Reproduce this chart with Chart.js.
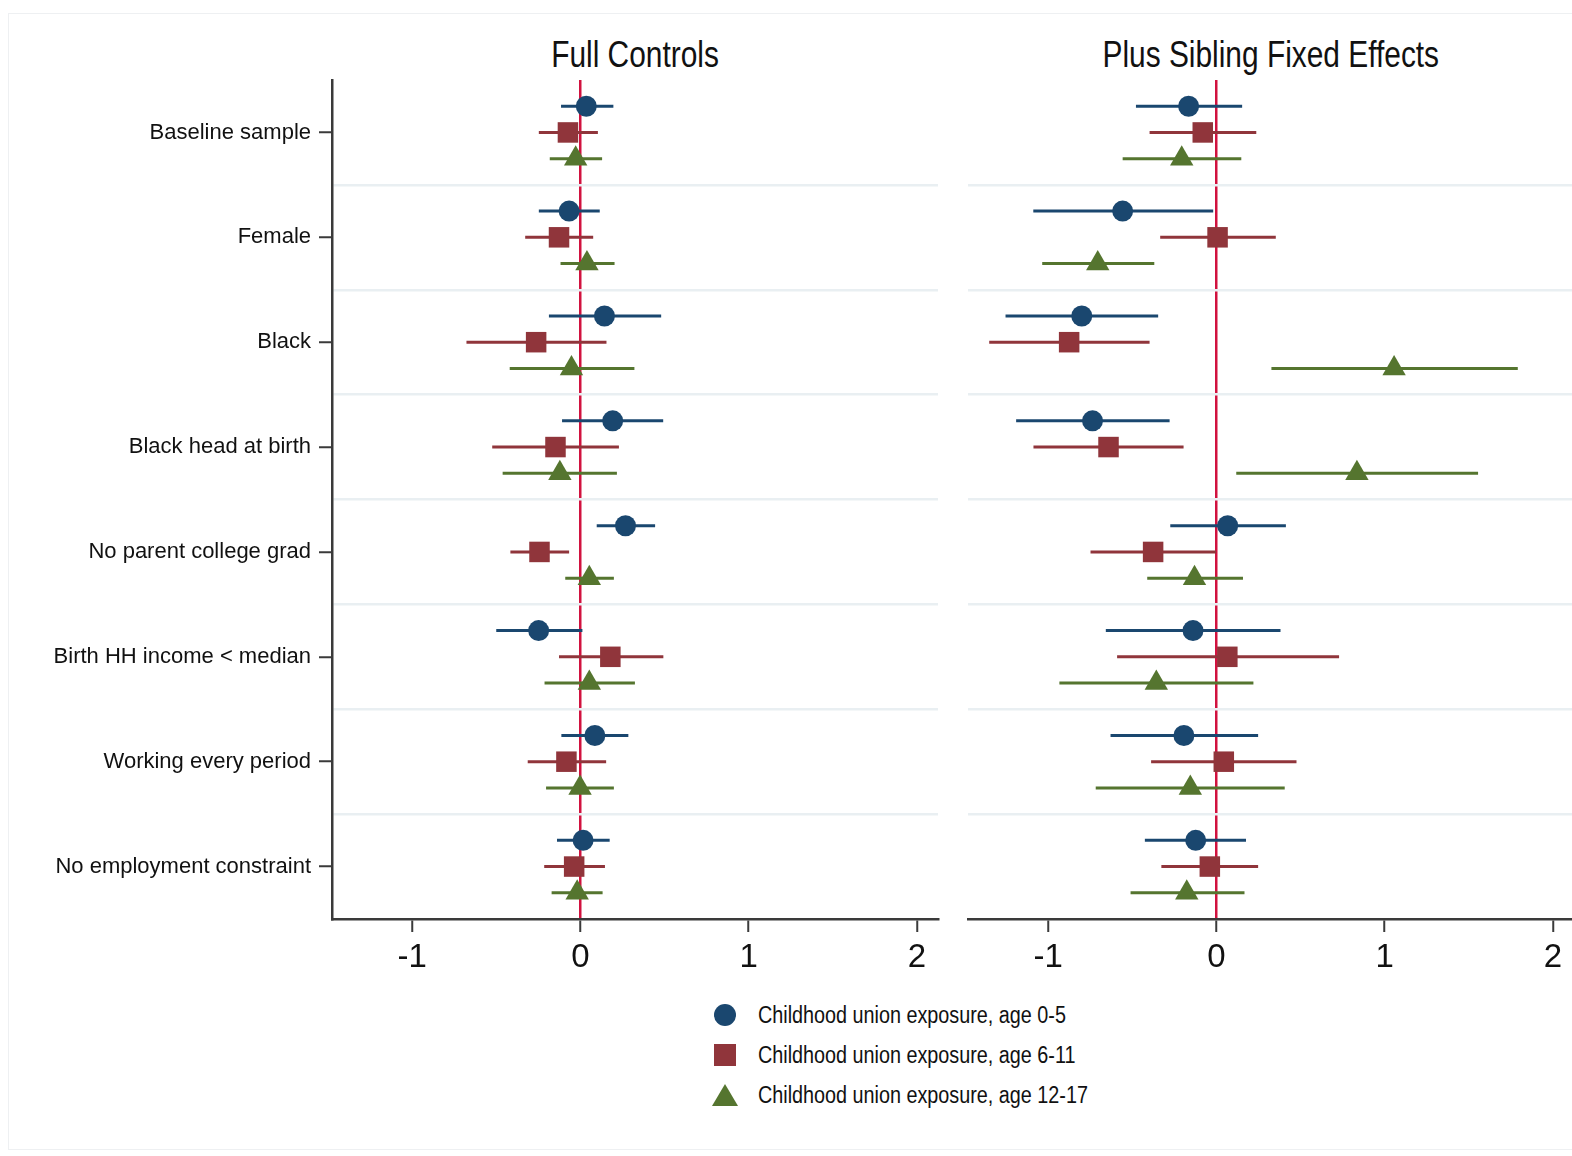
<!DOCTYPE html>
<html>
<head>
<meta charset="utf-8">
<script src="https://cdn.jsdelivr.net/npm/chart.js@4.4.1/dist/chart.umd.min.js"></script>
<style>
  body { margin: 0; width: 1572px; height: 1156px; overflow: hidden; background: #fff;
         font-family: 'Liberation Sans', Arial, sans-serif; }
  .frame { position: absolute; left: 8px; top: 13px; width: 1600px; height: 1135px; border: 1px solid #eef0f2; }
  canvas { position: absolute; top: 0; }
  .title { position: absolute; top: 34px; font-size: 36px; color: #111; text-align: center; white-space: nowrap; }
  .title span { display: inline-block; transform: scaleX(0.83); }
  .legend { position: absolute; left: 708px; top: 1000px; font-size: 23px; color: #111; white-space: nowrap; }
  .legend div { height: 40px; line-height: 30px; position: relative; }
  .legend .txt { position: absolute; left: 50px; top: 0; transform: scaleX(0.86); transform-origin: left center; }
  .sym { position: absolute; left: 6px; top: 4px; }
</style>
</head>
<body>
<div class="frame"></div>
<div class="title" style="left:332px;width:606px"><span>Full Controls</span></div>
<div class="title" style="left:968px;width:606px"><span>Plus Sibling Fixed Effects</span></div>
<canvas id="fullChart" width="960" height="1000" style="left:0"></canvas>
<canvas id="sibChart" width="660" height="1000" style="left:940px"></canvas>
<div class="legend" id="legend"></div>
<script>
// rows of the coefficient plot, top to bottom
const categories = ['Baseline sample', 'Female', 'Black', 'Black head at birth',
  'No parent college grad', 'Birth HH income < median', 'Working every period', 'No employment constraint'];
const seriesNames = ['Childhood union exposure, age 0-5', 'Childhood union exposure, age 6-11', 'Childhood union exposure, age 12-17'];
const xTicks = [-1, 0, 1, 2];

// Full Controls
const fullEst05 = [0.035, -0.067, 0.143, 0.192, 0.268, -0.248, 0.086, 0.016];
const fullLo05 = [-0.115, -0.247, -0.187, -0.109, 0.097, -0.5, -0.113, -0.139];
const fullHi05 = [0.196, 0.115, 0.48, 0.492, 0.444, 0.012, 0.285, 0.174];
const fullEst611 = [-0.074, -0.127, -0.263, -0.148, -0.243, 0.178, -0.083, -0.037];
const fullLo611 = [-0.247, -0.328, -0.677, -0.524, -0.416, -0.127, -0.313, -0.215];
const fullHi611 = [0.104, 0.076, 0.155, 0.229, -0.067, 0.493, 0.153, 0.146];
const fullEst1217 = [-0.028, 0.039, -0.053, -0.122, 0.053, 0.053, -0.002, -0.019];
const fullLo1217 = [-0.182, -0.118, -0.42, -0.462, -0.09, -0.213, -0.204, -0.171];
const fullHi1217 = [0.129, 0.203, 0.321, 0.217, 0.199, 0.324, 0.199, 0.132];

// Plus Sibling Fixed Effects
const sibEst05 = [-0.165, -0.557, -0.8, -0.736, 0.067, -0.139, -0.193, -0.123];
const sibLo05 = [-0.478, -1.088, -1.253, -1.19, -0.274, -0.657, -0.629, -0.425];
const sibHi05 = [0.153, -0.019, -0.346, -0.278, 0.413, 0.381, 0.248, 0.176];
const sibEst611 = [-0.081, 0.007, -0.875, -0.641, -0.376, 0.065, 0.044, -0.039];
const sibLo611 = [-0.397, -0.334, -1.35, -1.087, -0.748, -0.59, -0.388, -0.327];
const sibHi611 = [0.237, 0.353, -0.397, -0.195, -0.002, 0.729, 0.476, 0.248];
const sibEst1217 = [-0.206, -0.705, 1.056, 0.835, -0.13, -0.357, -0.155, -0.176];
const sibLo1217 = [-0.557, -1.035, 0.327, 0.118, -0.411, -0.933, -0.717, -0.51];
const sibHi1217 = [0.148, -0.369, 1.791, 1.555, 0.158, 0.22, 0.406, 0.167];

const colors = ['#1a476f', '#90353b', '#55752f'];
const markerStyles = ['circle', 'rect', 'triangle'];
const markerRadius = [10.5, 14.5, 13.5];
const rowOffset = [-0.25, 0, 0.25];
const axisColor = '#3a3a3a';
const sepColor = '#e9eff2';
const zeroColor = '#d1123f';

Chart.defaults.font.family = "'Liberation Sans', Arial, sans-serif";
Chart.defaults.color = '#111';

function makePanel(canvasId, est, lo, hi, showLabels, yWidth) {
  const datasets = [];
  // markers first so they draw over the bars
  est.forEach((vals, s) => {
    datasets.push({
      label: seriesNames[s],
      data: vals.map((v, i) => ({ x: v, y: i + rowOffset[s] })),
      pointStyle: markerStyles[s],
      pointRadius: markerRadius[s],
      backgroundColor: colors[s],
      borderColor: colors[s],
      pointBorderWidth: 0,
      showLine: false
    });
  });
  est.forEach((vals, s) => {
    vals.forEach((v, i) => {
      datasets.push({
        data: [{ x: lo[s][i], y: i + rowOffset[s] }, { x: hi[s][i], y: i + rowOffset[s] }],
        showLine: true,
        borderColor: colors[s],
        borderWidth: 3,
        pointRadius: 0
      });
    });
  });

  const yTickVals = [];
  for (let v = -0.5; v <= categories.length - 0.5; v += 0.5) yTickVals.push(v);
  const lastRow = categories.length - 0.5;

  return new Chart(document.getElementById(canvasId), {
    type: 'scatter',
    data: { datasets },
    options: {
      responsive: false,
      animation: false,
      layout: { padding: { top: 80, right: 0, left: 0, bottom: 0 } },
      plugins: { legend: { display: false }, tooltip: { enabled: false } },
      scales: {
        x: {
          min: -1.476, max: 2.125,
          afterBuildTicks: s => { s.ticks = xTicks.map(v => ({ value: v })); },
          afterFit: s => { s.height = 80; s.paddingLeft = 0; s.paddingRight = 0; },
          ticks: { font: { size: 33 }, color: '#111', padding: 6 },
          grid: {
            color: ctx => (ctx.tick && ctx.tick.value === 0) ? zeroColor : 'transparent',
            lineWidth: 2.5, tickLength: 13, tickColor: axisColor, tickWidth: 2
          },
          border: { color: axisColor, width: 2.5 }
        },
        y: {
          min: -0.5, max: lastRow, reverse: true,
          afterBuildTicks: s => { s.ticks = yTickVals.map(v => ({ value: v })); },
          afterFit: s => { s.width = yWidth; s.paddingTop = 0; s.paddingBottom = 0; },
          ticks: {
            display: showLabels, autoSkip: false, padding: 8,
            font: { size: 22 }, color: '#111',
            callback: v => Number.isInteger(v) ? categories[v] : ''
          },
          grid: {
            color: ctx => {
              const v = ctx.tick ? ctx.tick.value : 0;
              return (!Number.isInteger(v) && v > -0.5 && v < lastRow) ? sepColor : 'transparent';
            },
            lineWidth: 2.5, tickLength: 13, tickWidth: 2,
            tickColor: ctx => (showLabels && ctx.tick && Number.isInteger(ctx.tick.value)) ? axisColor : 'transparent'
          },
          border: { display: showLabels, color: axisColor, width: 2.5 }
        }
      }
    }
  });
}

// nudge layout padding so the plot area lands where the panel should be
function fitArea(chart, target) {
  for (let k = 0; k < 3; k++) {
    const a = chart.chartArea, p = chart.config.options.layout.padding;
    p.left += target.left - a.left;
    p.right += a.right - target.right;
    p.top += target.top - a.top;
    p.bottom += a.bottom - target.bottom;
    chart.update();
  }
}

const fullChart = makePanel('fullChart', [fullEst05, fullEst611, fullEst1217], [fullLo05, fullLo611, fullLo1217],
  [fullHi05, fullHi611, fullHi1217], true, 332);
const sibChart = makePanel('sibChart', [sibEst05, sibEst611, sibEst1217], [sibLo05, sibLo611, sibLo1217],
  [sibHi05, sibHi611, sibHi1217], false, 28);
fitArea(fullChart, { left: 332, right: 938, top: 80, bottom: 919 });
fitArea(sibChart, { left: 28, right: 634, top: 80, bottom: 919 });

// legend
const legend = document.getElementById('legend');
const symCss = [
  'width:22px;height:22px;border-radius:50%;background:' + colors[0],
  'width:22px;height:22px;background:' + colors[1],
  'width:0;height:0;border-left:13px solid transparent;border-right:13px solid transparent;border-bottom:22px solid ' + colors[2] + ';left:4px'
];
seriesNames.forEach((name, s) => {
  const row = document.createElement('div');
  row.innerHTML = '<span class="sym" style="' + symCss[s] + '"></span><span class="txt">' + name + '</span>';
  legend.appendChild(row);
});
</script>
</body>
</html>
